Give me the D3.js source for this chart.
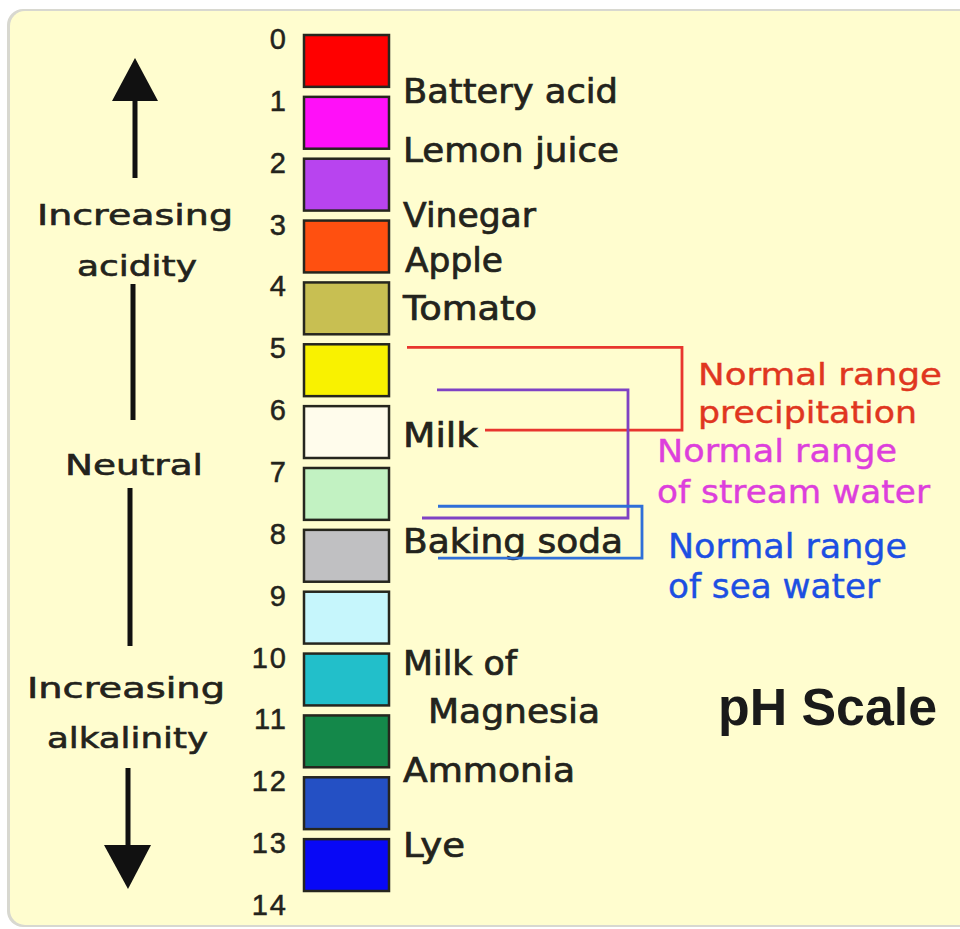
<!DOCTYPE html>
<html>
<head>
<meta charset="utf-8">
<script src="https://cdn.jsdelivr.net/npm/d3@7"></script>
<style>
  html, body { margin: 0; padding: 0; background: #ffffff; }
  svg { display: block; }
</style>
</head>
<body>
<script>
// ---------------- DATA ----------------
const tickLabels = ["0","1","2","3","4","5","6","7","8","9","10","11","12","13","14"];
const phLevels = [0,1,2,3,4,5,6,7,8,9,10,11,12,13];          // one colored block per pH unit
const blockColors = ["#ff0000","#ff10f8","#b844ef","#ff5010","#c8bf52","#f9f200","#fffcec",
                     "#c2f2c2","#c0c0c2","#c6f6fc","#22bfca","#14884a","#2450c4","#0808f6"];

const substances = ["Battery acid","Lemon juice","Vinegar","Apple","Tomato","Milk","Baking soda",
                    "Milk of","Magnesia","Ammonia","Lye"];
const substancePH = [1.05, 2.0, 3.06, 3.78, 4.56, 6.61, 8.33, 10.30, 11.07, 12.03, 13.24];

const rangeNames = [["Normal range","precipitation"],["Normal range","of stream water"],["Normal range","of sea water"]];
const rangeLow  = [5.0, 5.69, 7.57];
const rangeHigh = [6.34, 7.76, 8.41];

const sideLabels = [["Increasing","acidity"],["Neutral"],["Increasing","alkalinity"]];
const chartTitle = "pH Scale";

// ---------------- LAYOUT / STYLE ----------------
const W = 960, H = 929;
const svg = d3.select("body").append("svg").attr("width", W).attr("height", H);

// panel
svg.append("rect").attr("x", 7).attr("y", 9).attr("width", 980).attr("height", 918)
   .attr("rx", 16).attr("fill", "#d8d8d0");
svg.append("rect").attr("x", 10).attr("y", 11).attr("width", 980).attr("height", 914)
   .attr("rx", 15).attr("fill", "#fffdcf");

const y = d3.scaleLinear().domain([0, 14]).range([38, 904]);
const FONT = "'DejaVu Sans', Verdana, sans-serif";
const TXT = "#23231c";

// tick numbers via axis
const axis = d3.axisLeft(y).tickValues(tickLabels.map(Number)).tickFormat((d, i) => tickLabels[i])
  .tickSize(0).tickPadding(0);
const gAxis = svg.append("g").attr("transform", "translate(288,0)").call(axis);
gAxis.select(".domain").remove();
gAxis.selectAll("text").attr("font-family", "'Liberation Sans', Arial, sans-serif")
  .attr("font-size", 29).attr("fill", TXT)
  .attr("stroke", TXT).attr("stroke-width", 0.5)
  .attr("dy", "0.36em").attr("letter-spacing", 2);

// blocks
const bx = 304, bw = 85;
svg.append("g").selectAll("rect").data(phLevels).join("rect")
  .attr("x", bx).attr("width", bw)
  .attr("y", d => y(d) - 3)
  .attr("height", d => y(d + 1) - y(d) - 10)
  .attr("fill", (d, i) => blockColors[i])
  .attr("stroke", "#26261e").attr("stroke-width", 2.5);

// substance labels
const subLayout = {
  "Battery acid": {x: 403, w: 215}, "Lemon juice": {x: 403, w: 216}, "Vinegar": {x: 403, w: 133},
  "Apple": {x: 405, w: 98}, "Tomato": {x: 403, w: 134}, "Milk": {x: 403, w: 75},
  "Baking soda": {x: 403, w: 220}, "Milk of": {x: 403, w: 114}, "Magnesia": {x: 428, w: 172},
  "Ammonia": {x: 403, w: 172}, "Lye": {x: 403, w: 62}
};
svg.append("g").selectAll("text").data(substances).join("text")
  .attr("x", d => subLayout[d].x)
  .attr("y", (d, i) => y(substancePH[i]))
  .attr("textLength", d => subLayout[d].w).attr("lengthAdjust", "spacingAndGlyphs")
  .attr("font-family", FONT).attr("font-size", 33).attr("fill", TXT)
  .attr("stroke", TXT).attr("stroke-width", 0.7)
  .text(d => d);

// range brackets
const rangeColors = ["#e8352e", "#7f42c4", "#2f6fd8"];
const textColors  = ["#e0361f", "#dd3fdc", "#1d4fe2"];
const bracketX = [{top: 407, bot: 485, v: 682}, {top: 437, bot: 422, v: 628}, {top: 438, bot: 438, v: 642}];
const rangeText = [
  {x: 698, ys: [385, 423], ws: [244, 219], fs: 31},
  {x: 657, ys: [462, 503], ws: [240, 273], fs: 32},
  {x: 668, ys: [558, 598], ws: [239, 212], fs: 33}
];
const gR = svg.append("g");
rangeNames.forEach((nm, i) => {
  const b = bracketX[i];
  const y0 = y(rangeLow[i]), y1 = y(rangeHigh[i]);
  gR.append("path")
    .attr("d", `M${b.top},${y0}H${b.v}V${y1}H${b.bot}`)
    .attr("fill", "none").attr("stroke", rangeColors[i]).attr("stroke-width", 2.8);
});
rangeNames.forEach((nm, i) => {
  const t = rangeText[i];
  nm.forEach((line, j) => {
    gR.append("text").attr("x", t.x).attr("y", t.ys[j])
      .attr("textLength", t.ws[j]).attr("lengthAdjust", "spacingAndGlyphs")
      .attr("font-family", FONT).attr("font-size", t.fs).attr("fill", textColors[i])
      .attr("stroke", textColors[i]).attr("stroke-width", 0.4)
      .text(line);
  });
});

// side labels with arrows
const sideLayout = [
  {lines: [{x: 37, y: 225, w: 196}, {x: 77, y: 276, w: 120}]},
  {lines: [{x: 65, y: 475, w: 138}]},
  {lines: [{x: 27, y: 698, w: 198}, {x: 47, y: 748, w: 161}]}
];
const gS = svg.append("g");
sideLabels.forEach((lines, i) => {
  lines.forEach((line, j) => {
    const L = sideLayout[i].lines[j];
    gS.append("text").attr("x", L.x).attr("y", L.y)
      .attr("textLength", L.w).attr("lengthAdjust", "spacingAndGlyphs")
      .attr("font-family", FONT).attr("font-size", 28).attr("fill", TXT)
      .attr("stroke", TXT).attr("stroke-width", 0.6)
      .text(line);
  });
});
// arrow shafts
const shafts = [{x: 135, y0: 98, y1: 178}, {x: 133, y0: 284, y1: 420}, {x: 130, y0: 488, y1: 646}, {x: 128, y0: 768, y1: 848}];
gS.selectAll("line").data(shafts).join("line")
  .attr("x1", d => d.x).attr("x2", d => d.x).attr("y1", d => d.y0).attr("y2", d => d.y1)
  .attr("stroke", "#111").attr("stroke-width", 5);
// arrow heads
gS.append("path").attr("d", "M135,58L158,101L112,101Z").attr("fill", "#111");
gS.append("path").attr("d", "M128,889L151,845L104,845Z").attr("fill", "#111");

// title
svg.append("text").attr("x", 718).attr("y", 725)
  .attr("font-family", "'Liberation Sans', Arial, sans-serif").attr("font-weight", "bold")
  .attr("font-size", 51).attr("fill", "#1a1a1a")
  .attr("textLength", 219).attr("lengthAdjust", "spacingAndGlyphs")
  .text(chartTitle);
</script>
</body>
</html>
